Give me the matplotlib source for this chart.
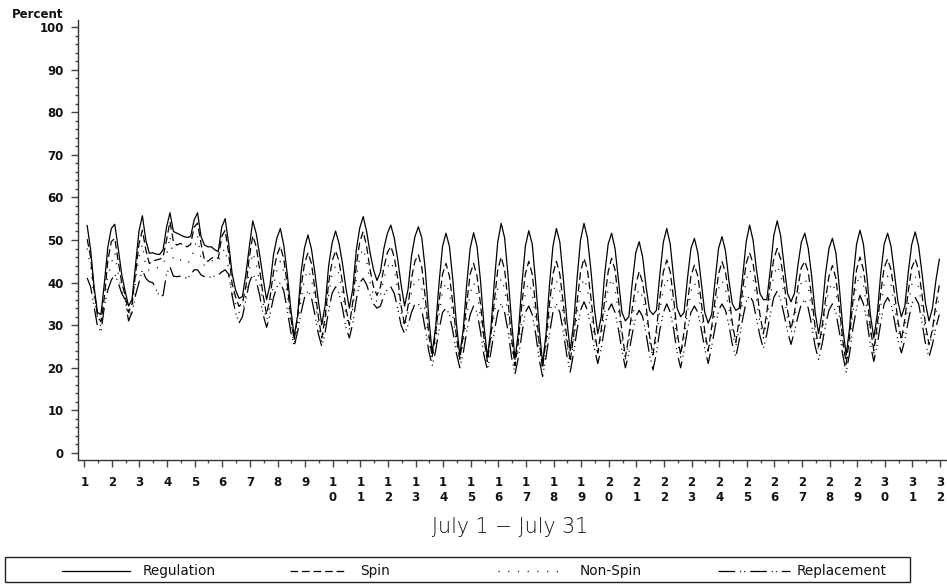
import numpy as np
import matplotlib
matplotlib.use("Agg")
import matplotlib.pyplot as plt
from matplotlib.lines import Line2D
from matplotlib.patches import Rectangle
from matplotlib.ticker import MultipleLocator

plt.rcParams["lines.scale_dashes"] = False
plt.rcParams["font.family"] = ["DejaVu Sans"]

# Sampling: 8 readings per day, at these hours of each day
days = list(range(1, 32))
sample_hours = [2.5, 5.5, 8.5, 11.5, 14.5, 17.5, 20.5, 23.5]

regulation = [
    53.4, 47.7, 39.0, 33.0, 32.5, 40.0, 48.4, 52.7,   # 1
    53.7, 48.0, 42.0, 38.0, 34.5, 36.0, 44.0, 52.0,   # 2
    55.7, 50.0, 46.9, 47.0, 46.7, 46.6, 47.7, 53.0,   # 3
    56.4, 52.0, 51.6, 51.2, 50.8, 50.6, 50.8, 54.7,   # 4
    56.4, 50.8, 48.8, 48.4, 48.4, 47.7, 47.3, 53.0,   # 5
    55.0, 49.2, 42.2, 38.3, 36.3, 36.7, 42.0, 48.4,   # 6
    54.5, 51.5, 46.5, 41.0, 36.0, 39.5, 46.5, 50.5,   # 7
    52.7, 48.7, 42.0, 34.0, 27.3, 32.3, 42.4, 48.2,   # 8
    51.2, 47.9, 42.3, 35.7, 30.1, 34.8, 44.0, 49.3,   # 9
    52.1, 49.2, 44.5, 38.7, 34.0, 38.6, 47.6, 52.8,   # 10
    55.5, 52.0, 47.0, 43.0, 40.5, 42.5, 48.0, 51.5,   # 11
    53.5, 50.5, 45.5, 39.5, 34.5, 38.4, 46.2, 50.8,   # 12
    53.1, 50.5, 43.0, 32.0, 23.5, 29.5, 40.0, 48.5,   # 13
    51.6, 48.5, 40.5, 30.5, 23.0, 29.0, 39.5, 48.0,   # 14
    51.7, 48.5, 40.5, 30.0, 22.5, 29.0, 40.0, 49.5,   # 15
    53.9, 50.5, 41.5, 31.0, 22.0, 28.5, 39.5, 48.5,   # 16
    52.2, 49.0, 40.0, 29.5, 21.0, 28.0, 39.5, 48.5,   # 17
    52.7, 49.5, 41.0, 31.5, 24.0, 30.5, 41.0, 50.0,   # 18
    53.9, 50.5, 43.0, 34.0, 28.0, 32.0, 42.0, 49.0,   # 19
    51.6, 48.0, 40.5, 33.0, 31.0, 32.0, 40.0, 47.0,   # 20
    49.6, 46.0, 39.0, 33.5, 32.5, 33.5, 42.0, 49.5,   # 21
    52.7, 49.0, 41.0, 34.0, 32.0, 33.0, 41.0, 48.0,   # 22
    50.4, 47.0, 40.0, 33.0, 30.5, 32.5, 40.5, 48.0,   # 23
    50.8, 47.5, 40.5, 35.0, 33.5, 34.0, 41.5, 49.5,   # 24
    53.5, 50.0, 43.0, 37.5, 36.0, 36.0, 43.0, 51.0,   # 25
    54.5, 51.0, 44.0, 37.5, 35.5, 37.5, 44.0, 49.5,   # 26
    51.6, 48.0, 41.5, 33.0, 28.0, 33.0, 42.0, 48.0,   # 27
    50.4, 47.0, 39.0, 29.5, 23.0, 29.5, 41.0, 49.0,   # 28
    52.3, 49.0, 41.5, 32.5, 27.0, 32.5, 42.0, 49.0,   # 29
    51.6, 48.5, 42.0, 35.5, 32.0, 34.5, 42.5, 49.0,   # 30
    51.9, 48.5, 42.0, 35.0, 31.0, 34.0, 40.5, 45.5,   # 31
]

spin = [
    50.2, 46.0, 38.3, 32.0, 30.8, 36.7, 45.3, 49.6,   # 1
    50.4, 45.0, 40.0, 37.0, 33.0, 35.0, 42.0, 49.0,   # 2
    52.3, 47.7, 44.5, 45.0, 45.3, 45.5, 46.0, 50.0,   # 3
    54.3, 49.6, 48.8, 49.2, 48.8, 48.4, 49.0, 53.0,   # 4
    54.0, 49.2, 45.3, 45.0, 45.7, 46.0, 45.7, 50.8,   # 5
    52.3, 46.9, 39.8, 36.7, 34.4, 35.2, 39.0, 46.0,   # 6
    51.0, 48.5, 43.0, 37.0, 32.5, 36.5, 42.5, 46.5,   # 7
    48.5, 45.5, 39.5, 32.0, 26.5, 32.0, 39.0, 44.5,   # 8
    47.0, 44.5, 38.5, 32.0, 27.0, 32.0, 40.0, 45.0,   # 9
    47.5, 45.0, 40.0, 34.0, 30.0, 35.5, 44.0, 49.5,   # 10
    52.0, 48.5, 43.0, 39.0, 37.0, 39.0, 43.5, 47.0,   # 11
    48.5, 46.0, 41.0, 34.5, 30.0, 34.5, 41.0, 45.0,   # 12
    46.5, 43.5, 36.5, 28.0, 22.5, 28.0, 35.5, 42.0,   # 13
    44.5, 41.5, 35.0, 27.5, 22.0, 27.5, 35.0, 42.0,   # 14
    44.5, 41.5, 35.0, 27.0, 21.5, 27.5, 35.5, 43.0,   # 15
    46.0, 43.0, 35.5, 27.0, 20.5, 26.5, 35.0, 42.0,   # 16
    45.0, 42.0, 34.5, 26.0, 20.0, 26.5, 35.0, 42.0,   # 17
    45.0, 42.0, 35.0, 27.0, 21.5, 27.5, 35.5, 42.5,   # 18
    45.7, 43.0, 36.5, 29.0, 23.5, 29.0, 36.0, 42.5,   # 19
    45.7, 43.0, 36.0, 28.5, 22.5, 27.5, 34.0, 39.5,   # 20
    42.6, 40.0, 34.5, 27.5, 23.0, 29.0, 36.5, 42.5,   # 21
    45.3, 42.5, 36.0, 28.5, 23.0, 28.5, 35.5, 41.5,   # 22
    44.1, 41.5, 35.5, 28.5, 24.0, 29.5, 36.0, 42.0,   # 23
    44.9, 42.5, 37.0, 30.5, 26.0, 31.5, 38.5, 44.5,   # 24
    47.0, 44.5, 39.0, 32.5, 28.0, 33.0, 40.0, 45.5,   # 25
    48.0, 45.5, 40.0, 33.5, 29.0, 33.0, 39.0, 43.5,   # 26
    45.0, 42.5, 36.5, 29.5, 25.0, 29.5, 36.0, 41.5,   # 27
    44.0, 41.0, 34.5, 26.5, 21.0, 27.5, 36.0, 43.0,   # 28
    46.0, 43.0, 37.0, 29.5, 24.0, 30.0, 37.5, 43.5,   # 29
    45.5, 43.0, 37.5, 31.0, 26.5, 31.5, 38.0, 43.5,   # 30
    45.5, 43.0, 37.0, 30.0, 25.5, 29.0, 35.0, 39.5,   # 31
]

non_spin = [
    48.0, 43.7, 36.8, 31.2, 29.7, 36.0, 41.4, 44.5,   # 1
    47.0, 42.0, 38.0, 36.0, 32.0, 34.0, 40.0, 46.0,   # 2
    49.0, 43.7, 42.8, 43.0, 43.4, 43.7, 44.5, 46.0,   # 3
    51.0, 45.3, 45.0, 45.3, 45.0, 44.5, 45.3, 47.7,   # 4
    51.0, 45.5, 44.0, 44.5, 45.0, 45.5, 45.0, 47.0,   # 5
    48.0, 43.0, 38.0, 35.0, 33.0, 33.0, 37.0, 43.0,   # 6
    47.0, 44.5, 40.0, 35.0, 31.0, 34.5, 39.5, 43.0,   # 7
    45.0, 42.5, 37.0, 30.5, 25.5, 30.0, 36.0, 41.0,   # 8
    43.0, 41.0, 36.0, 30.0, 26.0, 30.5, 37.0, 42.0,   # 9
    44.0, 42.0, 37.5, 32.5, 29.0, 34.0, 41.0, 46.0,   # 10
    48.0, 45.0, 40.0, 37.0, 35.5, 37.0, 41.0, 43.5,   # 11
    45.0, 43.0, 38.5, 33.0, 29.5, 33.0, 37.5, 40.5,   # 12
    41.0, 38.5, 33.0, 26.5, 22.0, 26.5, 32.5, 38.0,   # 13
    40.0, 37.5, 32.0, 26.0, 21.5, 26.0, 32.0, 37.5,   # 14
    40.0, 37.5, 32.0, 25.5, 21.0, 26.0, 32.5, 38.5,   # 15
    41.0, 38.5, 32.5, 25.0, 20.0, 25.0, 31.5, 37.5,   # 16
    40.0, 37.5, 31.5, 24.5, 19.5, 25.0, 31.5, 37.5,   # 17
    40.5, 38.0, 32.0, 25.5, 21.0, 26.0, 32.5, 38.5,   # 18
    41.0, 38.5, 33.0, 27.0, 23.0, 27.5, 33.0, 38.5,   # 19
    41.0, 38.5, 33.0, 26.5, 22.0, 26.0, 31.5, 36.5,   # 20
    38.5, 36.5, 32.0, 26.0, 22.5, 27.0, 33.5, 38.5,   # 21
    41.0, 38.5, 33.0, 26.5, 22.5, 27.0, 33.0, 38.0,   # 22
    40.0, 38.0, 33.0, 27.0, 23.5, 28.0, 33.5, 38.5,   # 23
    40.5, 38.5, 34.0, 28.5, 25.0, 29.5, 35.5, 40.5,   # 24
    43.0, 41.0, 36.0, 30.5, 27.0, 31.0, 37.0, 41.5,   # 25
    44.0, 42.0, 37.0, 31.5, 28.0, 31.5, 36.5, 40.0,   # 26
    41.0, 39.0, 33.5, 28.0, 24.0, 28.0, 34.0, 38.5,   # 27
    40.0, 37.5, 32.0, 25.0, 20.5, 26.0, 33.5, 39.5,   # 28
    42.0, 39.5, 34.0, 28.0, 23.5, 28.0, 34.5, 39.5,   # 29
    41.5, 39.5, 34.5, 29.0, 26.0, 29.5, 35.0, 39.5,   # 30
    41.5, 39.0, 34.0, 28.0, 25.0, 28.0, 33.0, 36.5,   # 31
]

replacement = [
    41.1, 39.0, 34.4, 29.7, 28.5, 34.4, 38.3, 40.6,   # 1
    42.0, 40.0, 37.5, 36.0, 31.0, 33.0, 37.0, 40.0,   # 2
    43.0, 41.0, 40.2, 40.0, 38.3, 36.7, 37.0, 42.0,   # 3
    43.7, 41.5, 41.4, 41.5, 41.2, 41.0, 41.8, 43.0,   # 4
    43.0, 41.8, 41.4, 41.2, 41.4, 41.5, 41.8, 42.5,   # 5
    43.0, 42.0, 37.0, 33.0, 30.5, 32.0, 36.0, 40.0,   # 6
    42.0, 40.5, 37.0, 32.5, 29.5, 32.5, 36.5, 39.0,   # 7
    40.0, 38.0, 33.5, 28.5, 25.0, 28.5, 33.0, 36.5,   # 8
    38.0, 36.5, 32.5, 28.0, 25.0, 28.5, 33.5, 37.5,   # 9
    39.0, 37.5, 34.0, 29.5, 27.0, 30.5, 36.0, 40.0,   # 10
    41.0, 39.5, 37.0, 35.0, 34.0, 34.5, 37.0, 38.5,   # 11
    39.0, 37.5, 34.0, 30.0, 28.0, 30.0, 33.0, 35.0,   # 12
    35.0, 33.5, 29.0, 24.0, 20.5, 24.0, 29.0, 33.0,   # 13
    34.0, 32.5, 28.5, 23.5, 20.0, 23.5, 28.5, 32.5,   # 14
    34.5, 33.0, 28.5, 23.0, 19.5, 23.5, 28.5, 33.0,   # 15
    35.0, 33.0, 28.5, 22.5, 18.5, 22.5, 28.0, 33.0,   # 16
    34.5, 32.5, 28.0, 22.0, 18.0, 22.5, 28.0, 33.0,   # 17
    35.0, 33.0, 28.5, 23.0, 19.0, 23.5, 29.0, 33.5,   # 18
    35.5, 33.5, 29.5, 24.5, 21.0, 24.5, 29.5, 33.5,   # 19
    35.0, 33.0, 29.0, 24.0, 20.0, 23.5, 28.0, 32.0,   # 20
    33.5, 32.0, 28.0, 23.0, 19.5, 23.5, 29.0, 33.0,   # 21
    35.0, 33.0, 29.0, 23.5, 20.0, 24.0, 29.0, 33.0,   # 22
    34.5, 33.0, 29.0, 24.5, 21.0, 25.0, 29.5, 33.5,   # 23
    35.0, 33.5, 30.0, 25.5, 22.5, 26.5, 31.5, 35.5,   # 24
    37.0, 35.5, 31.5, 27.5, 24.5, 28.0, 32.5, 36.5,   # 25
    38.0, 36.0, 32.5, 28.5, 25.5, 28.5, 32.0, 35.0,   # 26
    36.0, 34.0, 30.0, 25.0, 22.0, 25.5, 30.0, 33.5,   # 27
    35.0, 33.0, 28.5, 23.0, 19.0, 23.5, 29.5, 34.0,   # 28
    37.0, 35.0, 31.0, 25.5, 21.5, 25.5, 30.5, 35.0,   # 29
    36.5, 35.0, 31.0, 26.5, 23.5, 26.5, 31.0, 35.0,   # 30
    36.5, 35.0, 30.5, 25.5, 22.5, 25.5, 29.5, 32.5,   # 31
]

series_names = ["Regulation", "Spin", "Non-Spin", "Replacement"]
y_ticks = list(range(0, 101, 10))
x_ticks = list(range(1, 33))

# line styles (on/off lengths in points)
styles = {
    "Regulation": dict(linestyle="-"),
    "Spin": dict(linestyle=(0, (5.5, 2.8))),
    "Non-Spin": dict(linestyle=(0, (0.8, 6.2))),
    "Replacement": dict(linestyle=(0, (12, 3.5, 0.8, 2.2, 0.8, 3.5))),
}

W, H = 947, 587
fig = plt.figure(figsize=(W / 100, H / 100), dpi=100)
ax = fig.add_axes([78 / W, 1 - 460 / H, (946 - 78) / W, (460 - 20) / H])

x = np.array([d + h / 24.0 for d in days for h in sample_hours])
data = {
    "Regulation": regulation,
    "Spin": spin,
    "Non-Spin": non_spin,
    "Replacement": replacement,
}
lw = 0.9
for name in series_names:
    ax.plot(x, data[name], color="black", lw=lw, **styles[name])

ax.set_xlim(0.772, 32.22)
ax.set_ylim(-1.64, 101.64)

for s in ("top", "right"):
    ax.spines[s].set_visible(False)
for s in ("left", "bottom"):
    ax.spines[s].set_color("#333333")
    ax.spines[s].set_linewidth(1.0)

ax.set_yticks(y_ticks)
ax.set_yticklabels([str(v) for v in y_ticks])
ax.yaxis.set_minor_locator(MultipleLocator(2))
ax.set_xticks(x_ticks)
ax.set_xticklabels(["\n".join(str(d)) for d in x_ticks])
ax.xaxis.set_minor_locator(MultipleLocator(0.5))

ax.tick_params(axis="both", which="major", direction="out", length=4.8,
               width=1.0, color="#444444", labelsize=8.5, labelcolor="#111111")
ax.tick_params(axis="both", which="minor", direction="out", length=2.5,
               width=1.0, color="#444444")
ax.tick_params(axis="y", which="major", pad=5.5)
ax.tick_params(axis="x", which="major", pad=7.0)
for lab in ax.get_xticklabels() + ax.get_yticklabels():
    lab.set_fontweight("bold")
    lab.set_linespacing(1.2)

fig.text(12 / W, 1 - 14 / H, "Percent", fontsize=8.5, fontweight="bold",
         ha="left", va="center", color="#111111")

fig.text(510 / W, 1 - 527 / H, "July 1 \u2212 July 31", fontsize=14.8,
         fontweight=200, ha="center", va="center", color="#111111")

# legend frame and entries
fig.add_artist(Rectangle((5 / W, 1 - 582 / H), 905 / W, 25 / H,
                         transform=fig.transFigure, fill=False,
                         edgecolor="#222222", lw=1.0))
legend_y = 1 - 571 / H
legend_items = [
    ("Regulation", 62, 130, 143),
    ("Spin", 290, 345, 360),
    ("Non-Spin", 498, 565, 580),
    ("Replacement", 718, 790, 797),
]
for name, x0, x1, tx in legend_items:
    fig.add_artist(Line2D([x0 / W, x1 / W], [legend_y, legend_y],
                          transform=fig.transFigure, color="black", lw=lw,
                          **styles[name]))
    fig.text(tx / W, legend_y, name, fontsize=9.8, ha="left", va="center",
             color="#111111")

fig.savefig("out.png", dpi=100)
